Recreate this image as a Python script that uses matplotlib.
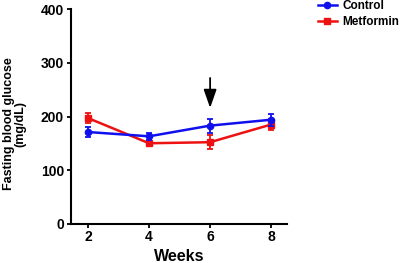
import matplotlib
matplotlib.use("Agg")
import matplotlib.pyplot as plt
from matplotlib.lines import Line2D

weeks = [2, 4, 6, 8]
control = [171, 163, 183, 194]
control_err = [10, 7, 13, 11]
metformin = [197, 150, 152, 185]
metformin_err = [9, 5, 13, 11]
yticks = [0, 100, 200, 300, 400]

plt.rcParams['font.family'] = ['Liberation Sans', 'DejaVu Sans']
plt.rcParams['font.weight'] = 'bold'

blue = '#1010ee'
red = '#ee1111'

fig = plt.figure(figsize=(4.0, 2.63), dpi=100)
ax = fig.add_axes([0.1775, 0.150, 0.54, 0.814])

ax.errorbar(weeks, control, yerr=control_err, color=blue, marker='o', ms=4.5,
            lw=1.8, capsize=2.5, elinewidth=1.3, capthick=1.3, zorder=3)
ax.errorbar(weeks, metformin, yerr=metformin_err, color=red, marker='s', ms=4.5,
            lw=1.8, capsize=2.5, elinewidth=1.3, capthick=1.3, zorder=2)

ax.annotate('', xy=(6, 216), xytext=(6, 272),
            arrowprops=dict(arrowstyle='-|>,head_width=0.28,head_length=0.8', color='black',
                            lw=1.3, mutation_scale=14, shrinkA=0, shrinkB=0))

ax.set_xlim(1.44, 8.52)
ax.set_ylim(0, 400)
ax.set_xticks(weeks)
ax.set_yticks(yticks)
ax.tick_params(axis='both', labelsize=10, width=1.3, length=3, pad=2)
for lab in ax.get_xticklabels() + ax.get_yticklabels():
    lab.set_fontweight('bold')
for s in ['top', 'right']:
    ax.spines[s].set_visible(False)
for s in ['left', 'bottom']:
    ax.spines[s].set_linewidth(1.5)

ax.set_xlabel('Weeks', fontsize=11.5, fontweight='bold', labelpad=3)
ax.set_ylabel('Fasting blood glucose\n(mg/dL)', fontsize=9, fontweight='bold',
              linespacing=1.0)
ax.yaxis.set_label_coords(-0.205, 0.465)

h1 = Line2D([], [], color=blue, marker='o', ms=4.5, lw=1.8)
h2 = Line2D([], [], color=red, marker='s', ms=4.5, lw=1.8)
fig.legend(handles=[h1, h2], labels=['Control', 'Metformin'], loc='upper left',
           bbox_to_anchor=(0.768, 1.04), frameon=False,
           prop={'weight': 'bold', 'size': 8.5}, handlelength=1.6, handletextpad=0.5,
           labelspacing=0.35)

fig.savefig('out.png', dpi=100)
